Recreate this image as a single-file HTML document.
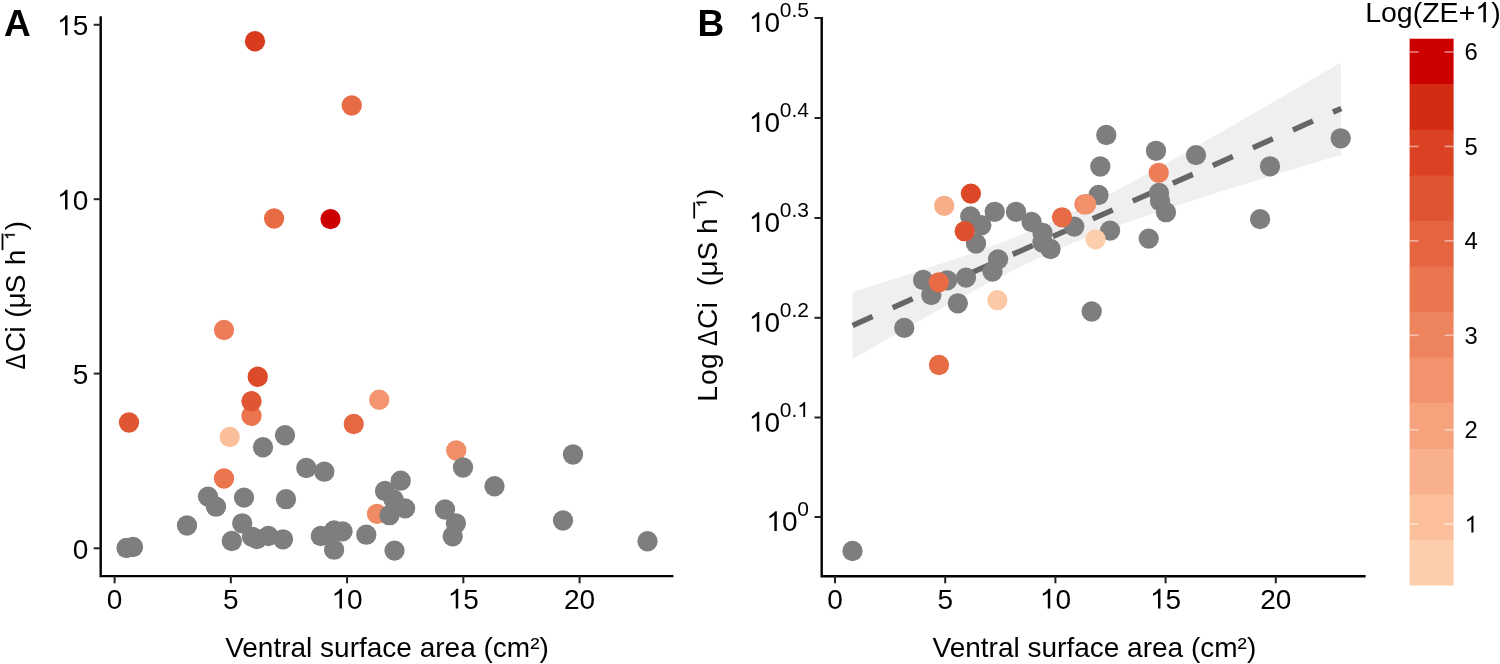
<!DOCTYPE html>
<html><head><meta charset="utf-8"><style>
html,body{margin:0;padding:0;background:#fff;width:1500px;height:664px;overflow:hidden}
svg{display:block;will-change:transform}
text{font-family:"Liberation Sans",sans-serif;fill:#000}
</style></head><body>
<svg width="1500" height="664" viewBox="0 0 1500 664">
<defs><path id="one" d="M763 0H583V1147Q518 1085 412 1023T223 930V1104Q374 1175 487 1276T647 1450H763Z" fill="#000"/><path id="oneb" d="M763 0H583V1147Q518 1085 412 1023T223 930V1104Q374 1175 487 1276T647 1450H763Z" fill="#000" stroke="#000" stroke-width="70"/></defs>
<rect width="1500" height="664" fill="#fff"/>
<!-- Panel A -->
<text x="4" y="35.6" font-size="37" font-weight="bold">A</text>
<circle cx="255" cy="41.25" r="10.15" fill="#d83b1d"/>
<circle cx="351.75" cy="105.5" r="10.15" fill="#e76c46"/>
<circle cx="274.1" cy="218.5" r="10.15" fill="#e76c46"/>
<circle cx="330.5" cy="219.1" r="10.15" fill="#cd0000"/>
<circle cx="224" cy="330" r="10.15" fill="#ec7d56"/>
<circle cx="257.75" cy="376.75" r="10.15" fill="#dc4a29"/>
<circle cx="251.5" cy="415.75" r="10.15" fill="#ea744e"/>
<circle cx="251.5" cy="401.25" r="10.15" fill="#e05633"/>
<circle cx="129" cy="422.5" r="10.15" fill="#e05633"/>
<circle cx="229.75" cy="437" r="10.15" fill="#fabe9a"/>
<circle cx="379.25" cy="399.75" r="10.15" fill="#f3966f"/>
<circle cx="353.75" cy="424" r="10.15" fill="#e66843"/>
<circle cx="456.25" cy="450.5" r="10.15" fill="#f18d67"/>
<circle cx="224" cy="478.5" r="10.15" fill="#ea744e"/>
<circle cx="377" cy="513.9" r="10.15" fill="#f08a64"/>
<circle cx="285" cy="435.25" r="10.15" fill="#7e7e7e"/>
<circle cx="263" cy="447.25" r="10.15" fill="#7e7e7e"/>
<circle cx="306.3" cy="468" r="10.15" fill="#7e7e7e"/>
<circle cx="324.3" cy="471.7" r="10.15" fill="#7e7e7e"/>
<circle cx="463" cy="467.5" r="10.15" fill="#7e7e7e"/>
<circle cx="208" cy="496.6" r="10.15" fill="#7e7e7e"/>
<circle cx="216" cy="506.7" r="10.15" fill="#7e7e7e"/>
<circle cx="244" cy="497.6" r="10.15" fill="#7e7e7e"/>
<circle cx="286" cy="499.2" r="10.15" fill="#7e7e7e"/>
<circle cx="187" cy="525.5" r="10.15" fill="#7e7e7e"/>
<circle cx="242.2" cy="523.3" r="10.15" fill="#7e7e7e"/>
<circle cx="231.8" cy="541" r="10.15" fill="#7e7e7e"/>
<circle cx="252" cy="536.8" r="10.15" fill="#7e7e7e"/>
<circle cx="257" cy="539" r="10.15" fill="#7e7e7e"/>
<circle cx="268.4" cy="536" r="10.15" fill="#7e7e7e"/>
<circle cx="283" cy="539.3" r="10.15" fill="#7e7e7e"/>
<circle cx="126.5" cy="548" r="10.15" fill="#7e7e7e"/>
<circle cx="133" cy="547" r="10.15" fill="#7e7e7e"/>
<circle cx="320.8" cy="536" r="10.15" fill="#7e7e7e"/>
<circle cx="334.1" cy="530.5" r="10.15" fill="#7e7e7e"/>
<circle cx="342.5" cy="531.4" r="10.15" fill="#7e7e7e"/>
<circle cx="334.1" cy="549.7" r="10.15" fill="#7e7e7e"/>
<circle cx="366.3" cy="534.7" r="10.15" fill="#7e7e7e"/>
<circle cx="385" cy="491" r="10.15" fill="#7e7e7e"/>
<circle cx="400.7" cy="480.7" r="10.15" fill="#7e7e7e"/>
<circle cx="393.5" cy="499.5" r="10.15" fill="#7e7e7e"/>
<circle cx="405.1" cy="508.4" r="10.15" fill="#7e7e7e"/>
<circle cx="389.5" cy="515.2" r="10.15" fill="#7e7e7e"/>
<circle cx="394.5" cy="550.6" r="10.15" fill="#7e7e7e"/>
<circle cx="445" cy="509.5" r="10.15" fill="#7e7e7e"/>
<circle cx="455.9" cy="523.3" r="10.15" fill="#7e7e7e"/>
<circle cx="452.7" cy="536.3" r="10.15" fill="#7e7e7e"/>
<circle cx="494.5" cy="486.25" r="10.15" fill="#7e7e7e"/>
<circle cx="573" cy="454.5" r="10.15" fill="#7e7e7e"/>
<circle cx="563" cy="520.5" r="10.15" fill="#7e7e7e"/>
<circle cx="647.5" cy="541.25" r="10.15" fill="#7e7e7e"/>
<polyline points="100.7,16.3 100.7,576.1 673.4,576.1" stroke="#000" stroke-width="2.4" fill="none" stroke-linejoin="miter"/>
<g stroke="#222" stroke-width="2"><line x1="93.7" y1="24.75" x2="100.6" y2="24.75"/><line x1="93.7" y1="199.2" x2="100.6" y2="199.2"/><line x1="93.7" y1="373.6" x2="100.6" y2="373.6"/><line x1="93.7" y1="548.3" x2="100.6" y2="548.3"/><line x1="114.60" y1="576" x2="114.60" y2="583.3"/><line x1="230.85" y1="576" x2="230.85" y2="583.3"/><line x1="347.10" y1="576" x2="347.10" y2="583.3"/><line x1="463.35" y1="576" x2="463.35" y2="583.3"/><line x1="579.60" y1="576" x2="579.60" y2="583.3"/></g>
<use href="#one" transform="translate(57.06,35.15) scale(0.01367,-0.01367)"/><text x="72.63" y="35.15" font-size="28">5</text><use href="#one" transform="translate(57.06,209.60) scale(0.01367,-0.01367)"/><text x="72.63" y="209.60" font-size="28">0</text><text x="72.63" y="384.00" font-size="28">5</text><text x="72.63" y="558.70" font-size="28">0</text><text x="106.81" y="608.60" font-size="28">0</text><text x="223.06" y="608.60" font-size="28">5</text><use href="#one" transform="translate(331.53,608.60) scale(0.01367,-0.01367)"/><text x="347.10" y="608.60" font-size="28">0</text><use href="#one" transform="translate(447.78,608.60) scale(0.01367,-0.01367)"/><text x="463.35" y="608.60" font-size="28">5</text><text x="564.03" y="608.60" font-size="28">20</text>
<text x="387" y="656.5" font-size="28" text-anchor="middle">Ventral surface area (cm²)</text>
<g transform="translate(25.2,368.9) rotate(-90)">
<text transform="scale(0.84,1)" x="-0.83" y="0" font-size="28">Δ</text>
<text x="16.58" y="0" font-size="28">C</text>
<text x="36.43" y="0" font-size="28">i</text>
<text x="51.16" y="0" font-size="28">(</text>
<text x="60.41" y="0" font-size="28">μ</text>
<text x="75.63" y="0" font-size="28">S</text>
<text x="103.56" y="0" font-size="28">h</text>
<text x="138.54" y="0" font-size="28">)</text>
<rect x="118.8" y="-23.60" width="16.50" height="1.8" fill="#000"/>
<use href="#oneb" transform="translate(129.48,-10.50) scale(0.00684,-0.00684)"/>
</g>
<!-- Panel B -->
<text x="697.5" y="35.6" font-size="37" font-weight="bold">B</text>
<polygon points="852.6,291.9 860.9,289.3 869.2,286.8 877.4,284.2 885.7,281.6 894.0,278.9 902.3,276.3 910.5,273.7 918.8,271.0 927.1,268.3 935.4,265.6 943.7,262.8 951.9,260.0 960.2,257.2 968.5,254.4 976.8,251.5 985.0,248.5 993.3,245.5 1001.6,242.4 1009.9,239.2 1018.2,236.0 1026.4,232.7 1034.7,229.2 1043.0,225.7 1051.3,222.1 1059.5,218.4 1067.8,214.6 1076.1,210.6 1084.4,206.6 1092.7,202.5 1100.9,198.3 1109.2,194.1 1117.5,189.7 1125.8,185.4 1134.1,180.9 1142.3,176.4 1150.6,171.9 1158.9,167.3 1167.2,162.7 1175.4,158.1 1183.7,153.4 1192.0,148.8 1200.3,144.1 1208.6,139.3 1216.8,134.6 1225.1,129.9 1233.4,125.1 1241.7,120.3 1249.9,115.5 1258.2,110.8 1266.5,106.0 1274.8,101.1 1283.1,96.3 1291.3,91.5 1299.6,86.7 1307.9,81.8 1316.2,77.0 1324.4,72.2 1332.7,67.3 1341.0,62.5 1341.0,154.7 1332.7,157.2 1324.4,159.7 1316.2,162.2 1307.9,164.7 1299.6,167.2 1291.3,169.7 1283.1,172.3 1274.8,174.8 1266.5,177.3 1258.2,179.9 1249.9,182.5 1241.7,185.0 1233.4,187.6 1225.1,190.2 1216.8,192.8 1208.6,195.4 1200.3,198.1 1192.0,200.7 1183.7,203.4 1175.4,206.1 1167.2,208.8 1158.9,211.6 1150.6,214.4 1142.3,217.2 1134.1,220.0 1125.8,223.0 1117.5,225.9 1109.2,228.9 1100.9,232.0 1092.7,235.2 1084.4,238.5 1076.1,241.8 1067.8,245.2 1059.5,248.8 1051.3,252.4 1043.0,256.1 1034.7,260.0 1026.4,263.9 1018.2,267.9 1009.9,272.0 1001.6,276.2 993.3,280.5 985.0,284.8 976.8,289.2 968.5,293.7 960.2,298.2 951.9,302.7 943.7,307.3 935.4,311.9 927.1,316.5 918.8,321.2 910.5,325.9 902.3,330.6 894.0,335.3 885.7,340.0 877.4,344.8 869.2,349.5 860.9,354.3 852.6,359.1" fill="#efefef"/>
<line x1="852.6" y1="325.5" x2="1341.3" y2="108.42" stroke="#666" stroke-width="5.5" stroke-dasharray="21.9 21.9"/>
<circle cx="970.3" cy="216.4" r="10.15" fill="#7e7e7e"/>
<circle cx="981.3" cy="225.2" r="10.15" fill="#7e7e7e"/>
<circle cx="976" cy="243.5" r="10.15" fill="#7e7e7e"/>
<circle cx="994.7" cy="211.8" r="10.15" fill="#7e7e7e"/>
<circle cx="1016" cy="211.8" r="10.15" fill="#7e7e7e"/>
<circle cx="1031.6" cy="222" r="10.15" fill="#7e7e7e"/>
<circle cx="1042.5" cy="232.8" r="10.15" fill="#7e7e7e"/>
<circle cx="1042.5" cy="242.5" r="10.15" fill="#7e7e7e"/>
<circle cx="1050.5" cy="249" r="10.15" fill="#7e7e7e"/>
<circle cx="1074.3" cy="226.6" r="10.15" fill="#7e7e7e"/>
<circle cx="1098.5" cy="195" r="10.15" fill="#7e7e7e"/>
<circle cx="1106.3" cy="135" r="10.15" fill="#7e7e7e"/>
<circle cx="1100.3" cy="166.5" r="10.15" fill="#7e7e7e"/>
<circle cx="1110.1" cy="230.6" r="10.15" fill="#7e7e7e"/>
<circle cx="1148.7" cy="238.6" r="10.15" fill="#7e7e7e"/>
<circle cx="1156" cy="150.8" r="10.15" fill="#7e7e7e"/>
<circle cx="1159" cy="193" r="10.15" fill="#7e7e7e"/>
<circle cx="1160" cy="201" r="10.15" fill="#7e7e7e"/>
<circle cx="1166" cy="212.2" r="10.15" fill="#7e7e7e"/>
<circle cx="1196" cy="155.1" r="10.15" fill="#7e7e7e"/>
<circle cx="1270" cy="166.3" r="10.15" fill="#7e7e7e"/>
<circle cx="1260.1" cy="219.1" r="10.15" fill="#7e7e7e"/>
<circle cx="1340.7" cy="138.3" r="10.15" fill="#7e7e7e"/>
<circle cx="1091.7" cy="311.5" r="10.15" fill="#7e7e7e"/>
<circle cx="998.1" cy="259.4" r="10.15" fill="#7e7e7e"/>
<circle cx="992.5" cy="271.6" r="10.15" fill="#7e7e7e"/>
<circle cx="966" cy="277.6" r="10.15" fill="#7e7e7e"/>
<circle cx="923.1" cy="280" r="10.15" fill="#7e7e7e"/>
<circle cx="947.2" cy="280.3" r="10.15" fill="#7e7e7e"/>
<circle cx="931.3" cy="295" r="10.15" fill="#7e7e7e"/>
<circle cx="957.8" cy="303.3" r="10.15" fill="#7e7e7e"/>
<circle cx="904.3" cy="327.9" r="10.15" fill="#7e7e7e"/>
<circle cx="852.5" cy="551" r="10.15" fill="#7e7e7e"/>
<circle cx="944.2" cy="205.8" r="10.15" fill="#f8ae89"/>
<circle cx="970.9" cy="193.6" r="10.15" fill="#dc4827"/>
<circle cx="964.7" cy="231.2" r="10.15" fill="#de502e"/>
<circle cx="1062" cy="217.3" r="10.15" fill="#e76c46"/>
<circle cx="1084.5" cy="204.3" r="10.15" fill="#ed805a"/>
<circle cx="1086.2" cy="204.2" r="10.15" fill="#f2916a"/>
<circle cx="1095.5" cy="239.4" r="10.15" fill="#fcceac"/>
<circle cx="1158.7" cy="172.8" r="10.15" fill="#ec7d56"/>
<circle cx="938.8" cy="282.3" r="10.15" fill="#e76c46"/>
<circle cx="997.4" cy="300.2" r="10.15" fill="#fcc9a7"/>
<circle cx="939" cy="365" r="10.15" fill="#e76c46"/>
<polyline points="821.7,17 821.7,576.2 1365.6,576.2" stroke="#000" stroke-width="2.4" fill="none" stroke-linejoin="miter"/>
<g stroke="#222" stroke-width="2"><line x1="814.5" y1="18" x2="821.7" y2="18"/><line x1="814.5" y1="118" x2="821.7" y2="118"/><line x1="814.5" y1="218" x2="821.7" y2="218"/><line x1="814.5" y1="317.8" x2="821.7" y2="317.8"/><line x1="814.5" y1="417.5" x2="821.7" y2="417.5"/><line x1="814.5" y1="517" x2="821.7" y2="517"/><line x1="835.00" y1="576" x2="835.00" y2="583.3"/><line x1="945.20" y1="576" x2="945.20" y2="583.3"/><line x1="1055.40" y1="576" x2="1055.40" y2="583.3"/><line x1="1165.60" y1="576" x2="1165.60" y2="583.3"/><line x1="1275.80" y1="576" x2="1275.80" y2="583.3"/></g>
<text x="779.81" y="17.40" font-size="21">0.5</text><use href="#one" transform="translate(748.86,32.00) scale(0.01367,-0.01367)"/><text x="764.43" y="32.00" font-size="28">0</text><text x="779.81" y="117.40" font-size="21">0.4</text><use href="#one" transform="translate(748.86,132.00) scale(0.01367,-0.01367)"/><text x="764.43" y="132.00" font-size="28">0</text><text x="779.81" y="217.40" font-size="21">0.3</text><use href="#one" transform="translate(748.86,232.00) scale(0.01367,-0.01367)"/><text x="764.43" y="232.00" font-size="28">0</text><text x="779.81" y="317.20" font-size="21">0.2</text><use href="#one" transform="translate(748.86,331.80) scale(0.01367,-0.01367)"/><text x="764.43" y="331.80" font-size="28">0</text><text x="779.81" y="416.90" font-size="21">0.</text><use href="#one" transform="translate(797.32,416.90) scale(0.01025,-0.01025)"/><use href="#one" transform="translate(748.86,431.50) scale(0.01367,-0.01367)"/><text x="764.43" y="431.50" font-size="28">0</text><text x="797.32" y="516.40" font-size="21">0</text><use href="#one" transform="translate(766.38,531.00) scale(0.01367,-0.01367)"/><text x="781.95" y="531.00" font-size="28">0</text><text x="827.21" y="608.60" font-size="28">0</text><text x="937.41" y="608.60" font-size="28">5</text><use href="#one" transform="translate(1039.83,608.60) scale(0.01367,-0.01367)"/><text x="1055.40" y="608.60" font-size="28">0</text><use href="#one" transform="translate(1150.03,608.60) scale(0.01367,-0.01367)"/><text x="1165.60" y="608.60" font-size="28">5</text><text x="1260.23" y="608.60" font-size="28">20</text>
<text x="1094.4" y="656.5" font-size="28" text-anchor="middle">Ventral surface area (cm²)</text>
<g transform="translate(717.0,399.4) rotate(-90)">
<text x="-2.30" y="0" font-size="28">L</text>
<text x="14.52" y="0" font-size="28">o</text>
<text x="30.32" y="0" font-size="28">g</text>
<text transform="scale(0.84,1)" x="63.69" y="0" font-size="28">Δ</text>
<text x="70.38" y="0" font-size="28">C</text>
<text x="91.13" y="0" font-size="28">i</text>
<text x="113.16" y="0" font-size="28">(</text>
<text x="122.81" y="0" font-size="28">μ</text>
<text x="139.03" y="0" font-size="28">S</text>
<text x="165.46" y="0" font-size="28">h</text>
<text x="201.44" y="0" font-size="28">)</text>
<rect x="180.9" y="-23.70" width="16.20" height="1.8" fill="#000"/>
<use href="#oneb" transform="translate(192.38,-10.60) scale(0.00684,-0.00684)"/>
</g>
<!-- colorbar -->
<text x="1365.18" y="22.20" font-size="28.5">Log(ZE+</text><use href="#one" transform="translate(1475.28,22.20) scale(0.01392,-0.01392)"/><text x="1491.13" y="22.20" font-size="28.5">)</text>
<rect x="1409.6" y="38.70" width="44.0" height="46.17" fill="#cd0000"/><rect x="1409.6" y="84.27" width="44.0" height="46.17" fill="#d42c12"/><rect x="1409.6" y="129.83" width="44.0" height="46.17" fill="#da4223"/><rect x="1409.6" y="175.40" width="44.0" height="46.17" fill="#e05531"/><rect x="1409.6" y="220.97" width="44.0" height="46.17" fill="#e56540"/><rect x="1409.6" y="266.53" width="44.0" height="46.17" fill="#ea754f"/><rect x="1409.6" y="312.10" width="44.0" height="46.17" fill="#ee845e"/><rect x="1409.6" y="357.67" width="44.0" height="46.17" fill="#f2936d"/><rect x="1409.6" y="403.23" width="44.0" height="46.17" fill="#f6a27c"/><rect x="1409.6" y="448.80" width="44.0" height="46.17" fill="#f8b18c"/><rect x="1409.6" y="494.37" width="44.0" height="46.17" fill="#fbbf9c"/><rect x="1409.6" y="539.93" width="44.0" height="45.57" fill="#fcceac"/>
<g stroke="#fff" stroke-opacity="0.5" stroke-width="1.6"><line x1="1409.6" y1="524.20" x2="1418.6" y2="524.20"/><line x1="1444.6" y1="524.20" x2="1453.6" y2="524.20"/><line x1="1409.6" y1="429.76" x2="1418.6" y2="429.76"/><line x1="1444.6" y1="429.76" x2="1453.6" y2="429.76"/><line x1="1409.6" y1="335.32" x2="1418.6" y2="335.32"/><line x1="1444.6" y1="335.32" x2="1453.6" y2="335.32"/><line x1="1409.6" y1="240.88" x2="1418.6" y2="240.88"/><line x1="1444.6" y1="240.88" x2="1453.6" y2="240.88"/><line x1="1409.6" y1="146.44" x2="1418.6" y2="146.44"/><line x1="1444.6" y1="146.44" x2="1453.6" y2="146.44"/><line x1="1409.6" y1="52.00" x2="1418.6" y2="52.00"/><line x1="1444.6" y1="52.00" x2="1453.6" y2="52.00"/></g>
<use href="#one" transform="translate(1464.60,532.50) scale(0.01162,-0.01162)"/><text x="1464.60" y="438.06" font-size="23.8">2</text><text x="1464.60" y="343.62" font-size="23.8">3</text><text x="1464.60" y="249.18" font-size="23.8">4</text><text x="1464.60" y="154.74" font-size="23.8">5</text><text x="1464.60" y="60.30" font-size="23.8">6</text>
</svg>
</body></html>
